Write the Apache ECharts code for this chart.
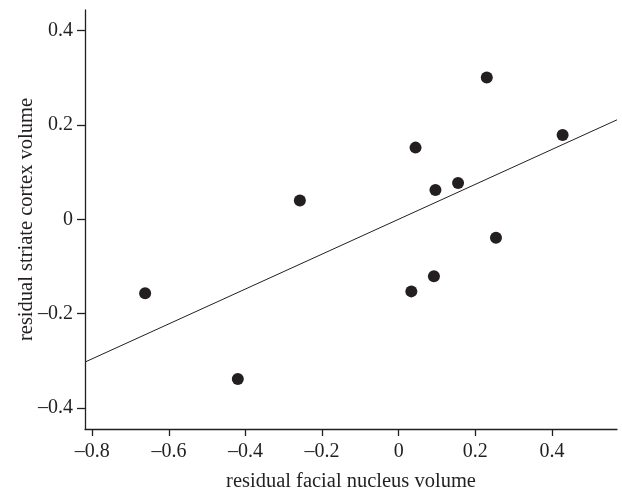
<!DOCTYPE html>
<html lang="en">
<head>
    <meta charset="UTF-8">
    <title>striate vs facial</title>
    <script src="https://cdn.jsdelivr.net/npm/echarts@6/dist/echarts.min.js"></script>
    <style>
        html, body {margin:0; padding:0; background:#fff;}
    </style>
</head>
<body>
<div id="container" style="width:622px; height:493px;"></div>
<script>
    // 数据
    let facialX = [-0.662, -0.420, -0.258, 0.033, 0.044, 0.092, 0.096, 0.155, 0.230, 0.254, 0.428];
    let striateY = [-0.157, -0.339, 0.040, -0.153, 0.152, -0.121, 0.062, 0.077, 0.301, -0.039, 0.179];
    // regression line end points
    let fitX = [-0.819, 0.57];
    let fitY = [-0.303, 0.211];
    let xTicks = [-0.8, -0.6, -0.4, -0.2, 0, 0.2, 0.4];
    let yTicks = [-0.4, -0.2, 0, 0.2, 0.4];

    let ink = '#231f20';
    let font = '"Liberation Serif", "DejaVu Serif", serif';
    let fmt = function (v) {
        let s = String(Math.round(v * 10) / 10);
        return s.replace('-', '\u2013');
    };

    let chart = echarts.init(document.getElementById('container'));
    let option = {
        backgroundColor: '#ffffff',
        animation: false,
        grid: {left: 85, right: 5, top: 10, bottom: 64, outerBoundsMode: 'none', containLabel: false},
        xAxis: {
            type: 'value',
            min: -0.819,
            max: 0.57,
            name: 'residual facial nucleus volume',
            nameLocation: 'middle',
            nameGap: 42,
            nameMoveOverlap: false,
            nameTextStyle: {fontFamily: font, fontSize: 20.5, color: ink},
            axisLine: {show: true, onZero: false, lineStyle: {color: ink, width: 1.3}},
            axisTick: {show: true, length: 7, customValues: xTicks, lineStyle: {color: ink, width: 1.3}},
            axisLabel: {customValues: xTicks, formatter: fmt, margin: 13, fontFamily: font, fontSize: 20, color: ink},
            splitLine: {show: false}
        },
        yAxis: {
            type: 'value',
            min: -0.445,
            max: 0.444,
            name: 'residual striate cortex volume',
            nameLocation: 'middle',
            nameGap: 48,
            nameMoveOverlap: false,
            nameTextStyle: {fontFamily: font, fontSize: 20.5, color: ink},
            axisLine: {show: true, onZero: false, lineStyle: {color: ink, width: 1.3}},
            axisTick: {show: true, length: 8, customValues: yTicks, lineStyle: {color: ink, width: 1.3}},
            axisLabel: {customValues: yTicks, formatter: fmt, margin: 12, fontFamily: font, fontSize: 20, color: ink},
            splitLine: {show: false}
        },
        series: [{
            type: 'line',
            data: fitX.map(function (x, i) { return [x, fitY[i]]; }),
            showSymbol: false,
            lineStyle: {color: ink, width: 1},
            z: 1
        }, {
            type: 'scatter',
            data: facialX.map(function (x, i) { return [x, striateY[i]]; }),
            symbolSize: 12,
            itemStyle: {color: ink, opacity: 1},
            z: 2
        }]
    };
    chart.setOption(option);
</script>
</body>
</html>
